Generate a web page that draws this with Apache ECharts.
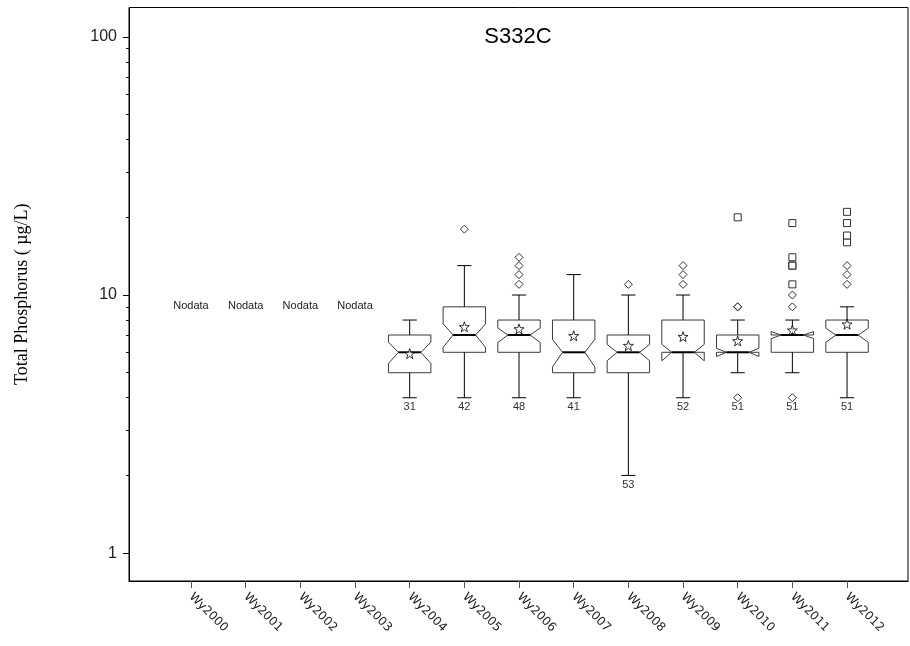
<!DOCTYPE html>
<html><head><meta charset="utf-8">
<script src="https://cdn.jsdelivr.net/npm/echarts@6/dist/echarts.min.js"></script>
<style>html,body{margin:0;padding:0;background:#fff}#c{width:910px;height:646px}</style>
</head><body><div id="c"></div>
<script>
// ---- data ----
const categories = ['Wy2000','Wy2001','Wy2002','Wy2003','Wy2004','Wy2005','Wy2006','Wy2007','Wy2008','Wy2009','Wy2010','Wy2011','Wy2012'];
const noDataYears = ['Wy2000','Wy2001','Wy2002','Wy2003'];
const boxYears = ['Wy2004','Wy2005','Wy2006','Wy2007','Wy2008','Wy2009','Wy2010','Wy2011','Wy2012'];
const q1 = [5, 6, 6, 5, 5, 6, 6, 6, 6];
const median = [6, 7, 7, 6, 6, 6, 6, 7, 7];
const q3 = [7, 9, 8, 8, 7, 8, 7, 7, 8];
const whiskerLow = [4, 4, 4, 4, 2, 4, 5, 5, 4];
const whiskerHigh = [8, 13, 10, 12, 10, 10, 8, 8, 9];
const means = [5.93, 7.53, 7.39, 6.95, 6.37, 6.9, 6.64, 7.31, 7.71];
const counts = [31, 42, 48, 41, 53, 52, 51, 51, 51];
const mildOutliers = [
  ['Wy2005',18],
  ['Wy2006',11],['Wy2006',12],['Wy2006',13],['Wy2006',14],
  ['Wy2008',11],
  ['Wy2009',11],['Wy2009',12],['Wy2009',13],
  ['Wy2010',9],['Wy2010',9],['Wy2010',4],
  ['Wy2011',9],['Wy2011',10],['Wy2011',4],
  ['Wy2012',11],['Wy2012',12],['Wy2012',13]
];
const extremeOutliers = [
  ['Wy2010',20],
  ['Wy2011',11],['Wy2011',13],['Wy2011',13],['Wy2011',14],['Wy2011',19],
  ['Wy2012',16],['Wy2012',17],['Wy2012',19],['Wy2012',21]
];
const noDataLevel = 9.1;
const yMajorTicks = [1, 10, 100];
const yMinorTicks = [2,3,4,5,6,7,8,9,20,30,40,50,60,70,80,90];
const titleText = 'S332C';
const yTitle = 'Total Phosphorus ( µg/L)';

// ---- build ----
const idx = name => categories.indexOf(name);
const allOut = mildOutliers.concat(extremeOutliers);
const boxData = boxYears.map((y, i) => {
  const outs = allOut.filter(o => o[0] === y).map(o => o[1]);
  const lowest = Math.min(whiskerLow[i], ...outs);
  return [idx(y), q1[i], median[i], q3[i], whiskerLow[i], whiskerHigh[i], counts[i], lowest];
});
const xTicks = categories.map((c, i) => i);

const chart = echarts.init(document.getElementById('c'), null, {renderer: 'canvas'});

function renderBox(params, api) {
  const xi = api.value(0);
  const Q1 = api.value(1), MED = api.value(2), Q3 = api.value(3);
  const WL = api.value(4), WH = api.value(5), N = api.value(6), LOW = api.value(7);
  const half = 1.58 * (Q3 - Q1) / Math.sqrt(N);
  const nHi = MED + half, nLo = MED - half;
  const band = api.coord([1, 10])[0] - api.coord([0, 10])[0];
  const hw = band * 0.388, nw = hw * 0.53, cw = band * 0.13;
  const cx = api.coord([xi, 10])[0];
  const Y = v => api.coord([xi, v])[1];
  const stroke = '#3a3a3a';
  const pts = [
    [cx - hw, Y(Q3)], [cx + hw, Y(Q3)], [cx + hw, Y(nHi)], [cx + nw, Y(MED)],
    [cx + hw, Y(nLo)], [cx + hw, Y(Q1)], [cx - hw, Y(Q1)], [cx - hw, Y(nLo)],
    [cx - nw, Y(MED)], [cx - hw, Y(nHi)]
  ];
  const line = (x1, y1, x2, y2, w) => ({type: 'line', shape: {x1, y1, x2, y2}, style: {stroke: '#000', lineWidth: w || 1}});
  return {
    type: 'group',
    children: [
      {type: 'polygon', shape: {points: pts}, style: {fill: 'rgba(255,255,255,0)', stroke: stroke, lineWidth: 1}},
      line(cx, Y(Q3), cx, Y(WH)),
      line(cx - cw, Y(WH), cx + cw, Y(WH)),
      line(cx, Y(Q1), cx, Y(WL)),
      line(cx - cw, Y(WL), cx + cw, Y(WL)),
      line(cx - nw, Y(MED), cx + nw, Y(MED), 2),
      {type: 'text', x: cx, y: Y(LOW) + 4, style: {text: String(N), fill: '#333', font: '11px "Liberation Sans", Arial, sans-serif', align: 'center', verticalAlign: 'top'}}
    ]
  };
}

function renderNoData(params, api) {
  const p = api.coord([api.value(0), api.value(1)]);
  return {type: 'text', x: p[0], y: p[1], style: {text: 'Nodata', fill: '#222', font: '11px "Liberation Sans", Arial, sans-serif', align: 'center', verticalAlign: 'middle'}};
}

const starPath = 'path://M0,-10 L2.35,-3.24 L9.51,-3.09 L3.8,1.24 L5.88,8.09 L0,4 L-5.88,8.09 L-3.8,1.24 L-9.51,-3.09 L-2.35,-3.24 Z';

const option = {
  animation: false,
  backgroundColor: '#fff',
  grid: {left: 129, right: 2, top: 7.5, bottom: 65, show: true, borderColor: '#000', borderWidth: 1, backgroundColor: 'transparent'},
  graphic: [{type: 'text', x: 518, y: 37, style: {text: titleText, font: '22px "Liberation Sans", Arial, sans-serif', fill: '#000', align: 'center', verticalAlign: 'middle'}}],
  xAxis: {
    type: 'value', min: -1.134, max: 13.115,
    axisLine: {show: true, onZero: false, lineStyle: {color: '#000', width: 1}},
    axisTick: {show: true, customValues: xTicks, length: 7, lineStyle: {color: '#555'}},
    axisLabel: {customValues: xTicks, rotate: -45, margin: 14, fontSize: 12, fontFamily: '"DejaVu Sans", sans-serif', color: '#222', formatter: v => categories[Math.round(v)] || ''},
    splitLine: {show: false}
  },
  yAxis: [{
    type: 'log', logBase: 10, min: 0.78, max: 130,
    axisLine: {show: true, onZero: false, lineStyle: {color: '#000'}},
    axisTick: {show: true, customValues: yMajorTicks, length: 6, lineStyle: {color: '#000'}},
    axisLabel: {customValues: yMajorTicks, fontSize: 16, fontFamily: '"Liberation Sans", Arial, sans-serif', color: '#222', margin: 12, formatter: v => String(Math.round(v))},
    splitLine: {show: false},
    name: yTitle, nameLocation: 'middle', nameGap: 98,
    nameTextStyle: {fontFamily: '"Liberation Serif", "DejaVu Serif", serif', fontSize: 18, color: '#000'}
  }, {
    type: 'log', logBase: 10, min: 0.78, max: 130, position: 'left',
    axisLine: {show: false, onZero: false},
    axisTick: {show: true, customValues: yMinorTicks, length: 3, lineStyle: {color: '#000'}},
    axisLabel: {show: false},
    splitLine: {show: false}
  }],
  series: [
    {type: 'custom', renderItem: renderBox, data: boxData, yAxisIndex: 0, silent: true},
    {type: 'custom', renderItem: renderNoData, data: noDataYears.map(y => [idx(y), noDataLevel]), yAxisIndex: 0, silent: true},
    {type: 'scatter', yAxisIndex: 0, symbol: 'diamond', symbolSize: 8, silent: true,
      itemStyle: {color: '#fff', borderColor: '#000', borderWidth: 1},
      data: mildOutliers.map(o => [idx(o[0]), o[1]])},
    {type: 'scatter', yAxisIndex: 0, symbol: 'rect', symbolSize: 7, silent: true,
      itemStyle: {color: '#fff', borderColor: '#000', borderWidth: 1},
      data: extremeOutliers.map(o => [idx(o[0]), o[1]])},
    {type: 'scatter', yAxisIndex: 0, symbol: starPath, symbolSize: 10, silent: true, z: 5,
      itemStyle: {color: '#fff', borderColor: '#000', borderWidth: 1},
      data: boxYears.map((y, i) => [idx(y), means[i]])}
  ]
};
chart.setOption(option);
</script>
</body></html>
